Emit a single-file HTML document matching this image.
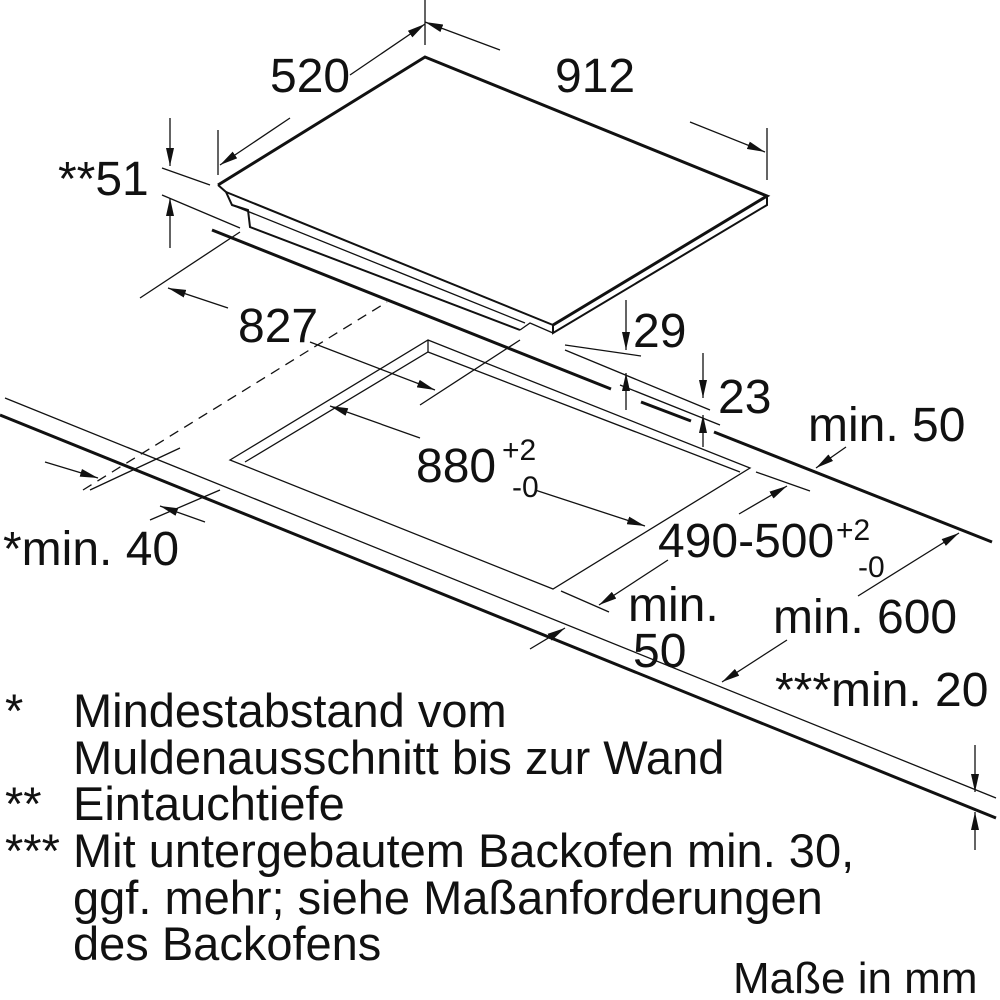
<!DOCTYPE html>
<html><head><meta charset="utf-8"><style>
html,body{margin:0;padding:0;background:#fff}
svg{display:block}
text{font-family:"Liberation Sans",sans-serif;fill:#111}
</style></head><body>
<svg width="1000" height="1000" viewBox="0 0 1000 1000" xmlns="http://www.w3.org/2000/svg">
<defs>
<marker id="b" markerWidth="18" markerHeight="8" refX="18" refY="4" orient="auto" markerUnits="userSpaceOnUse"><path d="M0,0 L18,4 L0,8 Z" fill="#111"/></marker>
</defs>
<g stroke="#111" fill="none" stroke-width="1.3">
<path d="M218,185 L425,57 L767,196 L553,325" stroke-width="3"/>
<path d="M218,185 L226,192 L232,205 L248,210 L250,227 L520,330" stroke-width="2"/>
<path d="M226,192 L553,325" stroke-width="2"/>
<path d="M232,205 L525,323"/>
<path d="M553,325 L553,333 L767,205 L767,196" stroke-width="2"/>
<path d="M520,330 L530,323 L553,333"/>
<path d="M212,230 L611,389" stroke-width="3"/>
<path d="M641,402 L691,421" stroke-width="3"/>
<path d="M714,432 L992,542" stroke-width="3"/>
<path d="M5,398 L996,798"/>
<path d="M0,415 L996,818" stroke-width="3"/>
<path d="M83,490 L387,302" stroke-dasharray="10,7"/>
<path d="M230,460 L428,340 L750,468 L553,589 Z"/>
<path d="M245,462 L428,352 L740,472"/>
<path d="M428,340 L428,352"/>
<path d="M425,0 L425,45"/>
<path d="M218,130 L218,175"/>
<path d="M767,128 L767,180"/>
<path d="M162,168 L210,185"/>
<path d="M162,195 L240,228"/>
<path d="M140,298 L240,232"/>
<path d="M420,405 L520,340"/>
<path d="M565,345 L641,356"/>
<path d="M565,350 L710,410"/>
<path d="M620,385 L720,425"/>
<path d="M756,472 L810,491"/>
<path d="M561,591 L609,612"/>
<path d="M90,490 L180,448"/>
<path d="M150,520 L220,490"/>
<path d="M350,75 L425,24" marker-end="url(#b)"/>
<path d="M290,118 L220,165" marker-end="url(#b)"/>
<path d="M500,50 L425,22" marker-end="url(#b)"/>
<path d="M690,122 L765,152" marker-end="url(#b)"/>
<path d="M170,118 L170,166" marker-end="url(#b)"/>
<path d="M170,248 L170,198" marker-end="url(#b)"/>
<path d="M228,308 L168,288" marker-end="url(#b)"/>
<path d="M310,342 L435,390" marker-end="url(#b)"/>
<path d="M420,438 L330,406" marker-end="url(#b)"/>
<path d="M535,490 L645,526" marker-end="url(#b)"/>
<path d="M739,514 L787,486" marker-end="url(#b)"/>
<path d="M668,560 L599,605" marker-end="url(#b)"/>
<path d="M858,596 L959,533" marker-end="url(#b)"/>
<path d="M787,640 L722,682" marker-end="url(#b)"/>
<path d="M846,447 L816,468" marker-end="url(#b)"/>
<path d="M530,649 L565,628" marker-end="url(#b)"/>
<path d="M626,300 L626,350" marker-end="url(#b)"/>
<path d="M626,410 L626,373" marker-end="url(#b)"/>
<path d="M703,353 L703,398" marker-end="url(#b)"/>
<path d="M703,447 L703,415" marker-end="url(#b)"/>
<path d="M45,462 L98,478" marker-end="url(#b)"/>
<path d="M205,522 L160,506" marker-end="url(#b)"/>
<path d="M975,745 L975,792" marker-end="url(#b)"/>
<path d="M975,850 L975,812" marker-end="url(#b)"/>
</g>
<g font-size="48">
<text x="270" y="92">520</text>
<text x="555" y="92">912</text>
<text x="58" y="195">**51</text>
<text x="238" y="342">827</text>
<text x="633" y="347">29</text>
<text x="718" y="413">23</text>
<text x="808" y="441">min. 50</text>
<text x="416" y="482">880</text>
<text x="502" y="460" font-size="30">+2</text>
<text x="512" y="497" font-size="30">-0</text>
<text x="658" y="557">490-500</text>
<text x="836" y="540" font-size="30">+2</text>
<text x="858" y="577" font-size="30">-0</text>
<text x="3" y="565">*min. 40</text>
<text x="628" y="621">min.</text>
<text x="633" y="667">50</text>
<text x="773" y="633">min. 600</text>
<text x="775" y="706">***min. 20</text>
</g>
<g font-size="47">
<text x="5" y="727">*</text><text x="73" y="727">Mindestabstand vom</text>
<text x="73" y="774">Muldenausschnitt bis zur Wand</text>
<text x="5" y="820">**</text><text x="73" y="820">Eintauchtiefe</text>
<text x="5" y="867">***</text><text x="73" y="867">Mit untergebautem Backofen min. 30,</text>
<text x="73" y="914">ggf. mehr; siehe Maßanforderungen</text>
<text x="73" y="960">des Backofens</text>
<text x="733" y="993" font-size="44">Maße in mm</text>
</g>
</svg>
</body></html>
